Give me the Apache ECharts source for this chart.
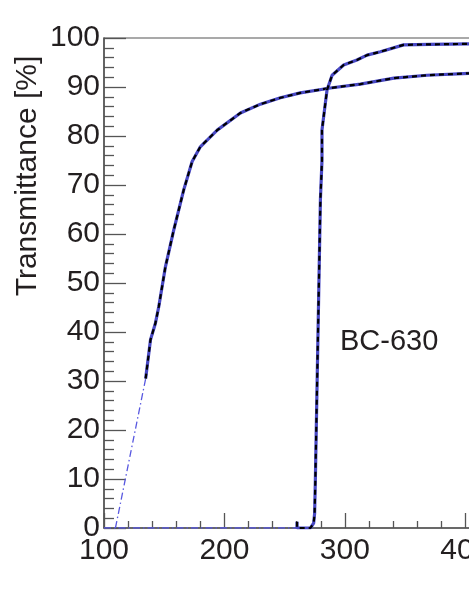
<!DOCTYPE html>
<html>
<head>
<meta charset="utf-8">
<script src="https://cdn.jsdelivr.net/npm/echarts@6/dist/echarts.min.js"></script>
<style>
  html, body { margin: 0; padding: 0; background: #fff; }
  #chart { width: 469px; height: 607px; }
</style>
</head>
<body>
<div id="chart"></div>
<script>
// wide band curve
var wlWide = [134.6, 138.6, 142.7, 145.5, 151, 157.9, 166.2, 173.2, 180, 194, 213.3, 229.9, 246.5, 263, 288, 312.9, 340.7, 368.2, 403.3, 430];
var tWide = [30.5, 38.4, 41.8, 45.2, 53.3, 60.8, 69, 74.8, 77.8, 81.2, 84.7, 86.5, 87.8, 88.8, 89.8, 90.6, 91.8, 92.4, 92.8, 93];
// extrapolated start of wide curve (dash-dot)
var wlWideExt = [109.5, 134.6];
var tWideExt = [0, 30.5];
// BC-630
var wlBC = [260.3, 260.3, 271.4, 274.1, 274.9, 275.5, 279.7, 281, 281, 283.8, 285.2, 289.4, 299, 310, 318.4, 329.5, 348.8, 370, 403.3, 430];
var tBC = [1.3, 0, 0, 1, 3, 9.8, 67, 75, 81.2, 86.7, 89.4, 92.4, 94.5, 95.5, 96.5, 97.2, 98.6, 98.7, 98.8, 98.8];
// baseline of BC-630 (dash-dot)
var wlBCExt = [100, 260.3];
var tBCExt = [0, 0];

function pairs(xs, ys) {
    return xs.map(function (x, i) { return [x, ys[i]] })
}

var font = 'Liberation Sans'
var textColor = '#231f20'
var axisColor = '#555'

var chart = echarts.init(document.getElementById('chart'))

function solid(data) {
    return {
        type: 'line', data: data, symbol: 'none', silent: true,
        lineStyle: { color: '#4848c4', width: 3.2 }
    }
}
function dashed(data) {
    return {
        type: 'line', data: data, symbol: 'none', silent: true,
        lineStyle: { color: '#000', width: 2.2, type: [5, 4] }
    }
}
function dashDot(data) {
    return {
        type: 'line', data: data, symbol: 'none', silent: true,
        lineStyle: { color: '#5858e0', width: 1.3, type: [7, 3, 1.5, 3] }
    }
}

chart.setOption({
    animation: false,
    grid: {
        left: 104, top: 38, height: 490, width: 843,
        containLabel: false, outerBoundsMode: 'none',
        show: true, borderColor: axisColor, borderWidth: 1.2
    },
    xAxis: {
        type: 'value', min: 100, max: 800, interval: 100,
        axisLine: { lineStyle: { color: axisColor, width: 1.5 } },
        axisTick: { inside: true, length: 15, lineStyle: { color: axisColor, width: 1.3 } },
        minorTick: { show: true, splitNumber: 5, length: 7, lineStyle: { color: axisColor, width: 1.3 } },
        splitLine: { show: false },
        axisLabel: { fontFamily: font, fontSize: 30, color: textColor, margin: 8, showMaxLabel: false }
    },
    yAxis: {
        type: 'value', min: 0, max: 100, interval: 10,
        axisLine: { show: true, lineStyle: { color: axisColor, width: 1.5 } },
        axisTick: { show: true, inside: true, length: 22, lineStyle: { color: axisColor, width: 1.3 } },
        minorTick: { show: true, splitNumber: 5, length: 10, lineStyle: { color: axisColor, width: 1.3 } },
        splitLine: { show: false },
        axisLabel: { fontFamily: font, fontSize: 30, color: textColor, margin: 4 }
    },
    graphic: [
        {
            type: 'text', x: 28, y: 176, rotation: Math.PI / 2,
            style: {
                text: 'Transmittance [%]', fontFamily: font, fontSize: 30, fill: textColor,
                textAlign: 'center', textVerticalAlign: 'middle'
            }
        },
        {
            type: 'text', x: 340, y: 342,
            style: {
                text: 'BC-630', fontFamily: font, fontSize: 29, fill: textColor,
                textAlign: 'left', textVerticalAlign: 'middle'
            }
        }
    ],
    series: [
        dashDot(pairs(wlWideExt, tWideExt)),
        dashDot(pairs(wlBCExt, tBCExt)),
        solid(pairs(wlWide, tWide)),
        dashed(pairs(wlWide, tWide)),
        solid(pairs(wlBC, tBC)),
        dashed(pairs(wlBC, tBC))
    ]
})
</script>
</body>
</html>
